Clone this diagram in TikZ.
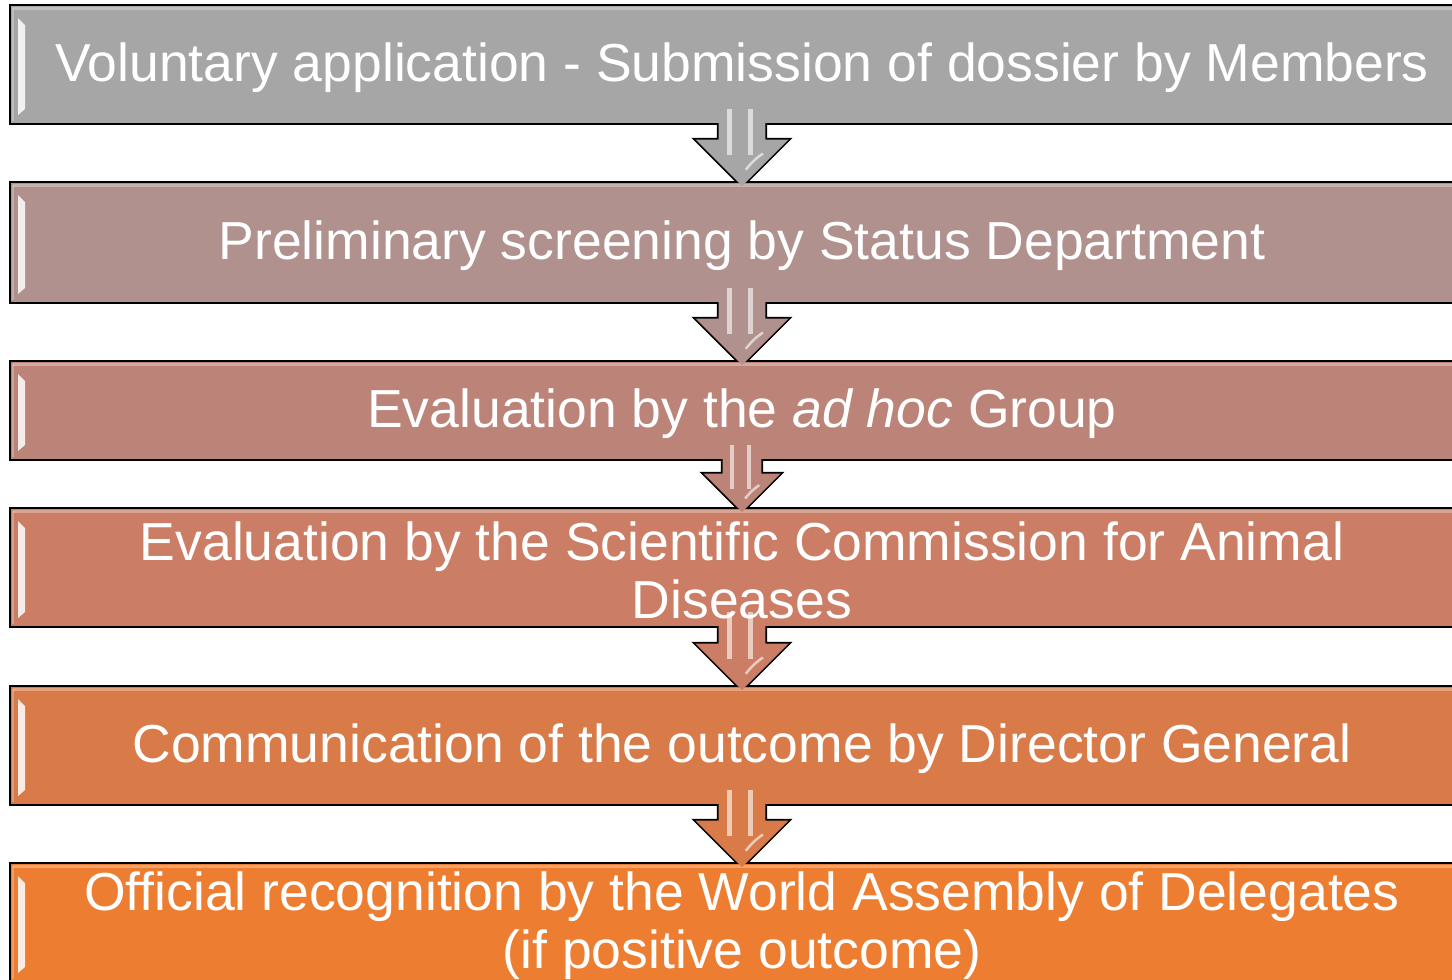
\documentclass[tikz,border=0pt]{standalone}
\usepackage{fontspec}
\setmainfont{Liberation Sans}
\usetikzlibrary{calc}

\definecolor{stageA}{RGB}{166,166,166}
\definecolor{stageB}{RGB}{176,145,142}
\definecolor{stageC}{RGB}{188,132,120}
\definecolor{stageD}{RGB}{203,126,101}
\definecolor{stageE}{RGB}{217,123,72}
\definecolor{stageF}{RGB}{237,125,49}

\tikzset{
	stage/.style={draw=black, line width=2pt, fill=#1, minimum width=1464pt, minimum height=119pt, inner sep=0pt},
	caption/.style={text=white, inner sep=0pt, align=center, yshift=-3pt, font=\fontsize{53.5}{58}\selectfont},
	arrowline/.style={draw=black, line width=3.4pt, line join=miter},
}

\newcommand{\arrowpath}[3]{($(#2.north)+(0,5)$) -- ($(#2.north)+(-#3,5-#3)$) -- ($(#2.north)+(-.505*#3,5-#3)$) -- ($(#1.south)+(-.505*#3,-16)$) -- ($(#1.south)+(.505*#3,-16)$) -- ($(#2.north)+(.505*#3,5-#3)$) -- ($(#2.north)+(#3,5-#3)$) -- cycle}

\newcommand{\arrowshine}[3]{
	\fill[white, opacity=.6] ($(#1.south)+(-.32*#3,-16)$) rectangle ($(#2.north)+(-.21*#3,20-#3)$);
	\fill[white, opacity=.6] ($(#1.south)+(.13*#3,-16)$) rectangle ($(#2.north)+(.24*#3,20-#3)$);
	\draw[white, opacity=.6, line width=2.5pt] ($(#2.north)+(.08*#3,5-.35*#3)$) .. controls ($(#2.north)+(.25*#3,5-.55*#3)$) .. ($(#2.north)+(.45*#3,5-.7*#3)$);
}

\newcommand{\stageshine}[1]{
	\draw[white, opacity=.3, line width=3pt] ($(#1.north west)+(4,4)$) -- ($(#1.north east)+(-4,4)$);
	\draw[white, opacity=.25, line width=2pt] ($(#1.north west)+(4,4)$) -- ($(#1.south west)+(4,-4)$);
	\fill[white, opacity=.85] ($(#1.north west)+(9,14)$) -- ($(#1.north west)+(16,21)$) -- ($(#1.south west)+(16,-16)$) -- ($(#1.south west)+(9,-10)$) -- cycle;
}

\begin{document}
\begin{tikzpicture}[x=1pt, y=-1pt]
	\useasboundingbox (0,0) rectangle (1452,980);
	\clip (0,0) rectangle (1452,980);
	\fill[white] (0,0) rectangle (1452,980);

	\coordinate (cDossier) at (742,64.5);
	\coordinate (cScreen) at (742,242.5);
	\coordinate (cAdhoc) at (742,410.5);
	\coordinate (cCommission) at (742,567.5);
	\coordinate (cOutcome) at (742,745.5);
	\coordinate (cAssembly) at (742,922.5);

	\path
		node[stage=stageA] (dossier) at (cDossier) {}
		node[stage=stageB, minimum height=121pt] (screen) at (cScreen) {}
		node[stage=stageC, minimum height=99pt] (adhoc) at (cAdhoc) {}
		node[stage=stageD] (commission) at (cCommission) {}
		node[stage=stageE] (outcome) at (cOutcome) {}
		node[stage=stageF] (assembly) at (cAssembly) {};

	\draw[arrowline] \arrowpath{dossier}{screen}{46.5};
	\draw[arrowline] \arrowpath{screen}{adhoc}{46.5};
	\draw[arrowline] \arrowpath{adhoc}{commission}{38.5};
	\draw[arrowline] \arrowpath{commission}{outcome}{46.5};
	\draw[arrowline] \arrowpath{outcome}{assembly}{46.5};

	\node[stage=stageA] (dossier) at (cDossier) {};
	\node[stage=stageB, minimum height=121pt] (screen) at (cScreen) {};
	\node[stage=stageC, minimum height=99pt] (adhoc) at (cAdhoc) {};
	\node[stage=stageD] (commission) at (cCommission) {};
	\node[stage=stageE] (outcome) at (cOutcome) {};
	\node[stage=stageF] (assembly) at (cAssembly) {};

	\stageshine{dossier}
	\stageshine{screen}
	\stageshine{adhoc}
	\stageshine{commission}
	\stageshine{outcome}
	\stageshine{assembly}

	\fill[stageA] \arrowpath{dossier}{screen}{46.5};
	\fill[stageB] \arrowpath{screen}{adhoc}{46.5};
	\fill[stageC] \arrowpath{adhoc}{commission}{38.5};
	\fill[stageD] \arrowpath{commission}{outcome}{46.5};
	\fill[stageE] \arrowpath{outcome}{assembly}{46.5};

	\arrowshine{dossier}{screen}{46.5}
	\arrowshine{screen}{adhoc}{46.5}
	\arrowshine{adhoc}{commission}{38.5}
	\arrowshine{commission}{outcome}{46.5}
	\arrowshine{outcome}{assembly}{46.5}

	\node[caption] (tDossier) at (dossier) {Voluntary application - Submission of dossier by Members};
	\node[caption] (tScreen) at (screen) {Preliminary screening by Status Department};
	\node[caption] (tAdhoc) at (adhoc) {Evaluation by the \textit{ad hoc} Group};
	\node[caption] (tCommission) at (commission) {Evaluation by the Scientific Commission for Animal\\Diseases};
	\node[caption] (tOutcome) at (outcome) {Communication of the outcome by Director General};
	\node[caption] (tAssembly) at (assembly) {Official recognition by the World Assembly of Delegates\\(if positive outcome)};

\end{tikzpicture}
\end{document}
